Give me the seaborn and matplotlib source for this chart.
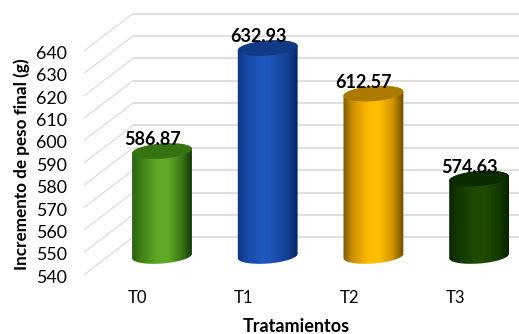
import numpy as np
import matplotlib
matplotlib.use("Agg")
import matplotlib.pyplot as plt
from matplotlib.colors import LinearSegmentedColormap
from matplotlib.patches import Polygon
import seaborn as sns

treatments = ["T0", "T1", "T2", "T3"]
gains = [586.87, 632.93, 612.57, 574.63]
value_ticks = [540, 550, 560, 570, 580, 590, 600, 610, 620, 630, 640]
body_shades = [
    ["#2a6010", "#3f8018", "#5fa926", "#5fa926", "#3a7a16", "#0d3004"],
    ["#103583", "#174aa8", "#2059c2", "#1c50b0", "#123f90", "#03205e"],
    ["#7a5208", "#c98f00", "#ffbb00", "#ffc000", "#d09400", "#6f4a00"],
    ["#0a2602", "#123600", "#1f4b00", "#1f4b00", "#143a00", "#072000"],
]
cap_colours = ["#357310", "#103a86", "#ad7a00", "#0b2c00"]

WIDTH, HEIGHT = 519, 334
PX_PER_CAT = 105.7
PX_PER_UNIT = 2.237
FIRST_BAR_PX = 162
BASE_PX = 256
BASE_VALUE = 540

sns.set_theme(style="white")
plt.rcParams["font.family"] = ["Lato", "DejaVu Sans"]

fig = plt.figure(figsize=(WIDTH / 100, HEIGHT / 100), dpi=100)
ax = fig.add_axes([0, 0, 1, 1])

sns.barplot(x=treatments, y=gains, hue=treatments, palette=[c[2] for c in body_shades],
            width=0.57, legend=False, ax=ax, zorder=3)

x_limits = (-FIRST_BAR_PX / PX_PER_CAT, (WIDTH - FIRST_BAR_PX) / PX_PER_CAT)
y_limits = (BASE_VALUE - (HEIGHT - BASE_PX) / PX_PER_UNIT, BASE_VALUE + BASE_PX / PX_PER_UNIT)


def dx(px):
    return px / PX_PER_CAT


def dy(px):
    return px / PX_PER_UNIT


# Receding gridlines: a slanted floor segment, then the back wall
depth = 18.7
slant_left = x_limits[0] + dx(84)
slant_right = x_limits[0] + dx(133)
for v in value_ticks:
    ax.plot([slant_left, slant_right],
            [v - dy(depth), v + dy(depth)],
            color="#dcdcdc", lw=0.9, zorder=1, solid_capstyle="butt")
    ax.plot([slant_right, x_limits[1]],
            [v + dy(depth), v + dy(depth)],
            color="#d9d9d9", lw=1.2, zorder=1, solid_capstyle="butt")


def ellipse_arc(cx, cy, start, stop, tilt=np.radians(4.5), a=30.0, b=7.5):
    t = np.linspace(start, stop, 60)
    px_x = a * np.cos(t) * np.cos(tilt) - b * np.sin(t) * np.sin(tilt)
    px_y = a * np.cos(t) * np.sin(tilt) + b * np.sin(t) * np.cos(tilt)
    return np.column_stack([cx + dx(px_x), cy + dy(px_y)])


# Each seaborn bar is restyled as a shaded cylinder standing on the 540 level
for bar, shades, cap, value in zip(ax.patches, body_shades, cap_colours, gains):
    bar.set_visible(False)
    cx = bar.get_x() + bar.get_width() / 2
    top = bar.get_height()
    half = dx(31)

    outline = np.vstack([
        ellipse_arc(cx, BASE_VALUE, np.pi, 2 * np.pi),
        ellipse_arc(cx, top, 0, np.pi),
    ])
    clip = Polygon(outline, closed=True, transform=ax.transData, facecolor="none", edgecolor="none")
    ax.add_patch(clip)

    cmap = LinearSegmentedColormap.from_list(
        "body", list(zip([0.0, 0.16, 0.42, 0.6, 0.82, 1.0], shades)))
    im = ax.imshow(np.linspace(0, 1, 128)[None, :], cmap=cmap, aspect="auto",
                   extent=[cx - half, cx + half, BASE_VALUE - dy(10), top + dy(10)],
                   zorder=3, interpolation="bilinear")
    im.set_clip_path(clip)

    ax.add_patch(Polygon(ellipse_arc(cx, top, 0, 2 * np.pi), closed=True,
                         facecolor=cap, edgecolor="none", zorder=4))
    ax.text(cx - dx(9.5), top + dy(11.5), f"{value:.2f}", ha="center", va="center",
            fontsize=13, fontweight="bold", color="black", zorder=5)

ax.set_xlim(*x_limits)
ax.set_ylim(*y_limits)

# Tick labels sit at the front of the floor, ahead of the bars' plane
ax.set_yticks([v - dy(depth + 1.5) for v in value_ticks], [str(v) for v in value_ticks])
ax.set_xticks([i - dx(24) for i in range(len(treatments))], treatments)
ax.tick_params(axis="y", length=0, pad=-67 * 0.72, labelsize=12.8, labelcolor="black")
ax.tick_params(axis="x", length=0, pad=-(HEIGHT - 290) * 0.72, labelsize=12, labelcolor="black")

ax.set_ylabel("Incremento de peso final (g)", fontsize=12.3, fontweight="bold", color="black")
ax.yaxis.set_label_coords(22 / WIDTH, 1 - 164 / HEIGHT)
ax.set_xlabel("Tratamientos", fontsize=13, fontweight="bold", color="black")
ax.xaxis.set_label_coords(296 / WIDTH, 1 - 326 / HEIGHT)
ax.xaxis.label.set_va("center")
ax.yaxis.label.set_va("center")

sns.despine(ax=ax, left=True, bottom=True)
ax.patch.set_alpha(0)
fig.savefig("out.png", dpi=100, facecolor="white")
